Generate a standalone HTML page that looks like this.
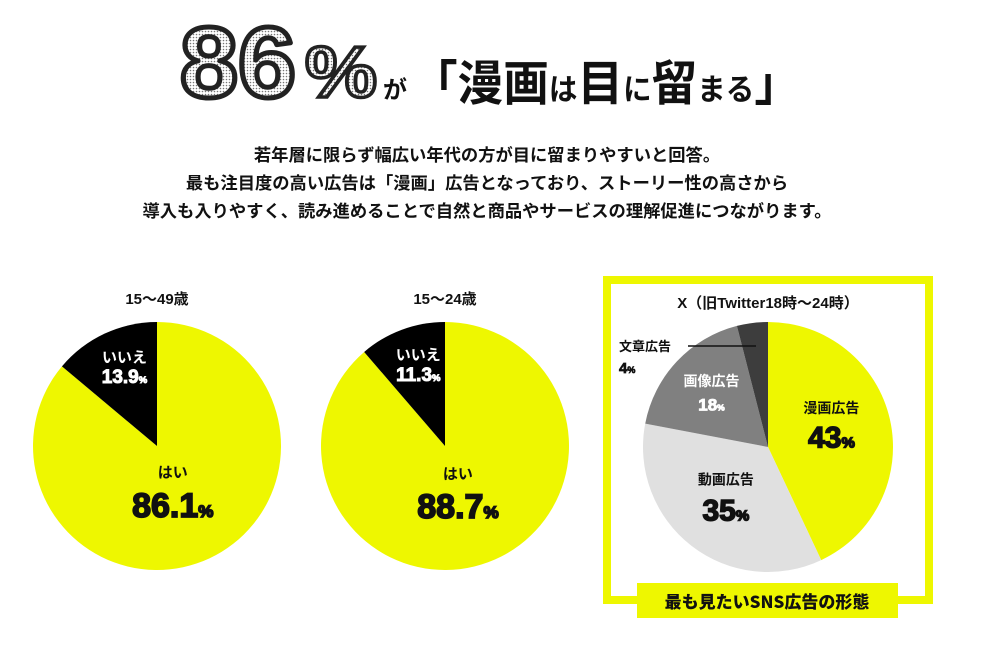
<!DOCTYPE html>
<html><head><meta charset="utf-8">
<style>
body{margin:0;background:#fff;width:985px;height:645px;overflow:hidden;font-family:"Liberation Sans","Noto Sans CJK JP",sans-serif;}
svg{position:absolute;left:0;top:0}
</style></head>
<body>
<svg width="985" height="645" id="chart">
<defs>
<pattern id="dots" width="3" height="3" patternUnits="userSpaceOnUse">
<rect width="3" height="3" fill="#fff"/><circle cx="1.5" cy="1.5" r="0.8" fill="#777"/>
</pattern>
</defs>
<g>
<text x="180" y="97" font-size="100" font-weight="900" font-family="'Liberation Sans',sans-serif" fill="url(#dots)" stroke="#222" stroke-width="5" stroke-linejoin="round" textLength="116" lengthAdjust="spacingAndGlyphs">86</text>
<text x="305" y="97" font-size="72" font-weight="900" fill="url(#dots)" stroke="#222" stroke-width="3.5" textLength="72" lengthAdjust="spacingAndGlyphs">%</text>
<text x="383" y="98" font-size="24" font-weight="700" fill="#111" font-family="'Noto Sans CJK JP',sans-serif">が</text>
<text x="412" y="100" font-size="48" font-weight="700" fill="#111" font-family="'Noto Sans CJK JP',sans-serif" textLength="388" lengthAdjust="spacingAndGlyphs">「漫画<tspan font-size="30">は</tspan>目<tspan font-size="30">に</tspan>留<tspan font-size="30">まる</tspan>」</text>
</g>
<g font-family="'Noto Sans CJK JP',sans-serif" font-weight="700" font-size="17.3" fill="#111" text-anchor="middle">
<text x="487" y="161">若年層に限らず幅広い年代の方が目に留まりやすいと回答。</text>
<text x="487" y="189">最も注目度の高い広告は「漫画」広告となっており、ストーリー性の高さから</text>
<text x="487" y="217">導入も入りやすく、読み進めることで自然と商品やサービスの理解促進につながります。</text>
</g>
<rect x="607" y="280" width="322" height="320" fill="none" stroke="#eef700" stroke-width="8"/>
<g id="pies"></g>
<rect x="637" y="583" width="261" height="35" fill="#eef700"/>
<text x="767" y="608" text-anchor="middle" font-family="'Noto Sans CJK JP',sans-serif" font-weight="900" font-size="17" fill="#111">最も見たいSNS広告の形態</text>
</svg>
<script>
const pie1Labels=["はい","いいえ"];
const pie1Values=[86.1,13.9];
const pie2Labels=["はい","いいえ"];
const pie2Values=[88.7,11.3];
const pie3Labels=["漫画広告","動画広告","画像広告","文章広告"];
const pie3Values=[43,35,18,4];
const pieTitles=["15〜49歳","15〜24歳","X（旧Twitter18時〜24時）"];
const NS="http://www.w3.org/2000/svg";
const g=document.getElementById('pies');
function mk(t,a,p){const e=document.createElementNS(NS,t);for(const k in a)e.setAttribute(k,a[k]);(p||g).appendChild(e);return e;}
function pt(cx,cy,r,f){const a=f*2*Math.PI;return [cx+r*Math.sin(a),cy-r*Math.cos(a)];}
function drawPie(cx,cy,r,vals,labels,colors,textColors,name,labelPos){
  const tot=vals.reduce((a,b)=>a+b,0);let acc=0;
  vals.forEach((v,i)=>{
    const f0=acc/tot,f1=(acc+v)/tot;acc+=v;
    const [x0,y0]=pt(cx,cy,r,f0),[x1,y1]=pt(cx,cy,r,f1);
    const p=mk('path',{d:`M${cx},${cy}L${x0},${y0}A${r},${r} 0 ${f1-f0>0.5?1:0} 1 ${x1},${y1}Z`,fill:colors[i]});
    
    
    const lp=labelPos[i];if(!lp)return;
    const mid=(f0+f1)/2;const [lx,ly]=pt(cx,cy,r*lp.rf,mid);
    const t=mk('text',{x:lx,y:ly+lp.dy,'text-anchor':'middle','font-family':"'Noto Sans CJK JP',sans-serif",'font-weight':'700','font-size':lp.ls,fill:textColors[i]});
    t.textContent=labels[i];
    
    
    const n=mk('text',{x:lx,y:ly+lp.dy+lp.vs*lp.gap,'text-anchor':'middle','font-family':"'Liberation Sans',sans-serif",'font-weight':'900','font-size':lp.vs,fill:textColors[i],stroke:textColors[i],'stroke-width':lp.vs*0.05});
    n.innerHTML=vals[i]+'<tspan font-size="'+(lp.vs*0.5)+'">%</tspan>';
    
    
  });
}
const yesNoCol=["#eef700","#000"],yesNoTxt=["#111","#fff"];
const lp2=[{rf:0.3,dy:-2,ls:15,vs:34,gap:1.15},{rf:0.62,dy:-14,ls:15,vs:19,gap:1.1}];
drawPie(157,446,124,pie1Values,pie1Labels,yesNoCol,yesNoTxt,'pie-15-49',lp2);
drawPie(445,446,124,pie2Values,pie2Labels,yesNoCol,yesNoTxt,'pie-15-24',lp2);
drawPie(768,447,125,pie3Values,pie3Labels,["#eef700","#e0e0e0","#808080","#3d3d3d"],["#111","#111","#fff","#fff"],'pie-sns',
 [{rf:0.52,dy:-20,ls:14,vs:30,gap:1.15},{rf:0.55,dy:-17,ls:14,vs:30,gap:1.2},{rf:0.62,dy:-8,ls:14,vs:17,gap:1.45},null]);
const ln=mk('line',{x1:688,y1:346,x2:756,y2:346,stroke:'#111','stroke-width':1.5});

const ct=mk('text',{x:619,y:351,'font-family':"'Noto Sans CJK JP',sans-serif",'font-weight':'700','font-size':13,fill:'#111'});
ct.textContent=pie3Labels[3];
const cv=mk('text',{x:619,y:373,'font-family':"'Liberation Sans',sans-serif",'font-weight':'900','font-size':15,fill:'#111',stroke:'#111','stroke-width':0.7});
cv.innerHTML=pie3Values[3]+'<tspan font-size="9">%</tspan>';
[[157,304],[445,304],[768,308]].forEach((p,i)=>{
  const t=mk('text',{x:p[0],y:p[1],'text-anchor':'middle','font-family':"'Liberation Sans','Noto Sans CJK JP',sans-serif",'font-weight':'700','font-size':15,fill:'#111'});
  t.textContent=pieTitles[i];
  
  
});
</script>
</body></html>
